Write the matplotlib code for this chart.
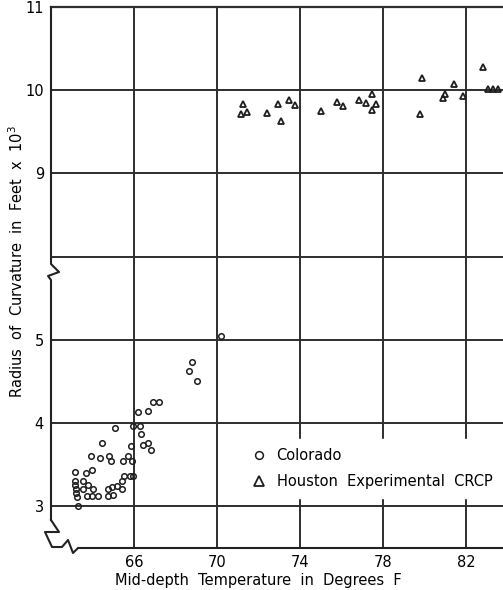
import numpy as np
import matplotlib
matplotlib.use("Agg")
import matplotlib.pyplot as plt
from matplotlib.lines import Line2D

# Colorado sections (temperature F, radius x 10^3 ft)
colorado_t = [63.16, 63.16, 63.18, 63.20, 63.22, 63.25, 63.28, 63.56, 63.80, 63.56,
              64.01, 63.72, 63.96, 64.25, 63.69, 63.99, 64.76, 64.93, 65.17, 64.73,
              64.97, 65.41, 65.41, 65.52, 65.81, 65.97, 63.93, 64.36, 64.80, 64.89,
              65.48, 65.69, 65.89, 65.84, 64.47, 65.08, 65.97, 66.29, 66.34, 66.45,
              66.66, 66.80, 66.18, 66.69, 66.93, 67.22, 68.65, 68.81, 69.05, 70.18]
colorado_r = [3.41, 3.31, 3.26, 3.21, 3.16, 3.11, 3.00, 3.31, 3.26, 3.21,
              3.21, 3.12, 3.12, 3.12, 3.40, 3.44, 3.21, 3.23, 3.24, 3.13,
              3.14, 3.21, 3.31, 3.37, 3.37, 3.37, 3.61, 3.58, 3.60, 3.54,
              3.55, 3.60, 3.55, 3.72, 3.76, 3.94, 3.96, 3.96, 3.87, 3.74,
              3.76, 3.68, 4.14, 4.15, 4.26, 4.26, 4.63, 4.74, 4.51, 5.05]

# Houston experimental CRCP
houston_t = [71.27, 71.14, 71.43, 72.40, 72.96, 73.07, 73.48, 73.74, 75.01, 75.77,
             76.09, 76.84, 77.18, 77.45, 77.66, 77.47, 79.86, 79.78, 80.99, 80.88,
             81.42, 81.84, 82.83, 83.08, 83.32, 83.56]
houston_r = [9.83, 9.72, 9.74, 9.73, 9.83, 9.63, 9.88, 9.82, 9.75, 9.86,
             9.81, 9.88, 9.85, 9.95, 9.84, 9.76, 10.15, 9.71, 9.95, 9.91,
             10.07, 9.93, 10.28, 10.02, 10.02, 10.02]

x_ticks = [66, 70, 74, 78, 82]
y_tick_values = [3, 4, 5, 9, 10, 11]


def broken(v):
    # values above the break are shifted down so 8 sits just above 5
    v = np.asarray(v, dtype=float)
    return np.where(v > 6.5, v - 2, v)


W, H = 503, 590
fig = plt.figure(figsize=(W / 100, H / 100), dpi=100)
ax = fig.add_axes([51 / W, 1 - 548 / H, 1 - 51 / W, (548 - 7) / H])

ax.set_xlim(62, 83.78)
ax.set_ylim(2.5, 9)

grid_col = "#2e2e2e"
for xv in x_ticks:
    ax.axvline(xv, color=grid_col, lw=1.4, zorder=1)
for yv in [3, 4, 5, 6, 7, 8]:
    ax.axhline(yv, color=grid_col, lw=1.4, zorder=1)

ax.plot(colorado_t, broken(colorado_r), "o", ms=4, mfc="none", mec="#1e1e1e",
        mew=1.1, zorder=3, label="Colorado")
ax.plot(houston_t, broken(houston_r), "^", ms=5, mfc="none", mec="#1e1e1e",
        mew=1.3, zorder=3, label="Houston  Experimental  CRCP")

ax.set_xticks(x_ticks)
ax.set_xticklabels([str(v) for v in x_ticks], fontsize=10.5)
ax.set_yticks(broken(y_tick_values))
ax.set_yticklabels([str(v) for v in y_tick_values], fontsize=10.5)
ax.tick_params(length=0, pad=5)

for s in ax.spines.values():
    s.set_visible(False)
ax.spines["top"].set_visible(True)
ax.spines["top"].set_color(grid_col)
ax.spines["top"].set_linewidth(1.6)

leg = ax.legend(loc="upper left", bbox_to_anchor=(0.412, 0.215), frameon=True,
                fontsize=10.5, handlelength=0.8, handletextpad=0.8,
                labelspacing=0.8, borderpad=0.6, markerscale=1.4)
leg.get_frame().set_edgecolor("white")
leg.get_frame().set_facecolor("white")
leg.get_frame().set_alpha(1)
leg.set_zorder(5)


def fig_line(xs, ys):
    fig.add_artist(Line2D([x / W for x in xs], [1 - y / H for y in ys],
                          color="#222222", lw=1.5, transform=fig.transFigure))


# left axis with break marks
fig_line([51, 51, 59, 48, 51, 51], [7, 264, 272, 276, 280, 520])
fig_line([51, 59, 45, 52, 62, 68, 73, 78, 503],
         [520, 532, 532, 547, 547, 540, 553, 548, 548])

fig.text(258 / W, 1 - 580 / H, "Mid-depth  Temperature  in  Degrees  F",
         ha="center", va="center", fontsize=10.5)
fig.text(17 / W, 1 - 262 / H, "Radius  of  Curvature  in  Feet  x  10$^3$",
         ha="center", va="center", rotation=90, fontsize=10.5)

fig.savefig("out.png", dpi=100)
